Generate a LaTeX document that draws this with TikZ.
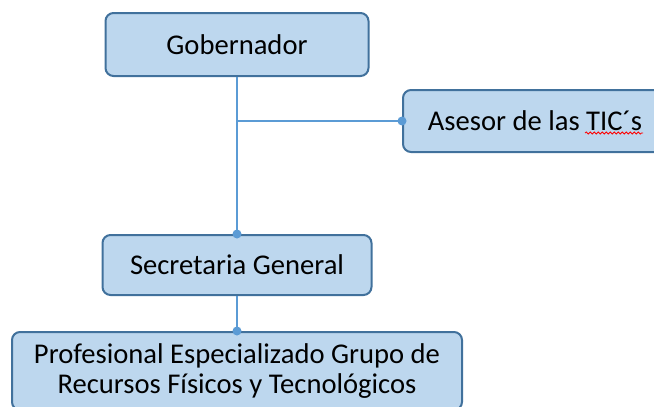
\documentclass[tikz,border=0pt]{standalone}
\usepackage{fontspec}
\setmainfont{Carlito}
\usetikzlibrary{positioning, decorations.pathmorphing}

\definecolor{boxfill}{HTML}{BDD7EE}
\definecolor{boxline}{HTML}{41719C}
\definecolor{linkblue}{HTML}{5B9BD5}

\begin{document}
\begin{tikzpicture}[
  x=0.5pt, y=-0.5pt,
  font=\fontsize{14.3}{15.2}\selectfont,
  box/.style={draw=boxline, line width=1pt, rounded corners=4pt, fill=boxfill, align=center, inner sep=0pt},
  link/.style={draw=linkblue, line width=1.1pt},
  dot/.style={circle, fill=linkblue, inner sep=0pt, minimum size=4.5pt},
]
\clip (0,0) rectangle (654,407);

% Boxes
\node[box, minimum width=131.5pt, minimum height=31.5pt] (gob) at (237,44.5) {Gobernador};
\node[box, minimum width=132pt, minimum height=31pt] (asesor) at (535,121) {Asesor de las TIC´s};
\node[box, minimum width=134.5pt, minimum height=30pt] (sec) at (237,265) {Secretaria General};
\node[box, minimum width=225pt, minimum height=39pt] (prof) at (237,371) {Profesional Especializado Grupo de\\Recursos Físicos y Tecnológicos};

% Trunk and branch
\coordinate (branch) at (gob.south |- asesor.west);
\draw[link] (gob.south) -- (sec.north);
\draw[link] (branch) -- (asesor.west);
\draw[link] (sec.south) -- (prof.north);

% Dots at the ends
\node[dot] (d1) at (asesor.west) {};
\node[dot] (d2) at (sec.north) {};
\node[dot] (d3) at (prof.north) {};

% Spelling mark
\draw[red, line width=0.4pt, decorate, decoration={snake, amplitude=0.5pt, segment length=2pt}] (585,133) -- (643,133);

\end{tikzpicture}
\end{document}
